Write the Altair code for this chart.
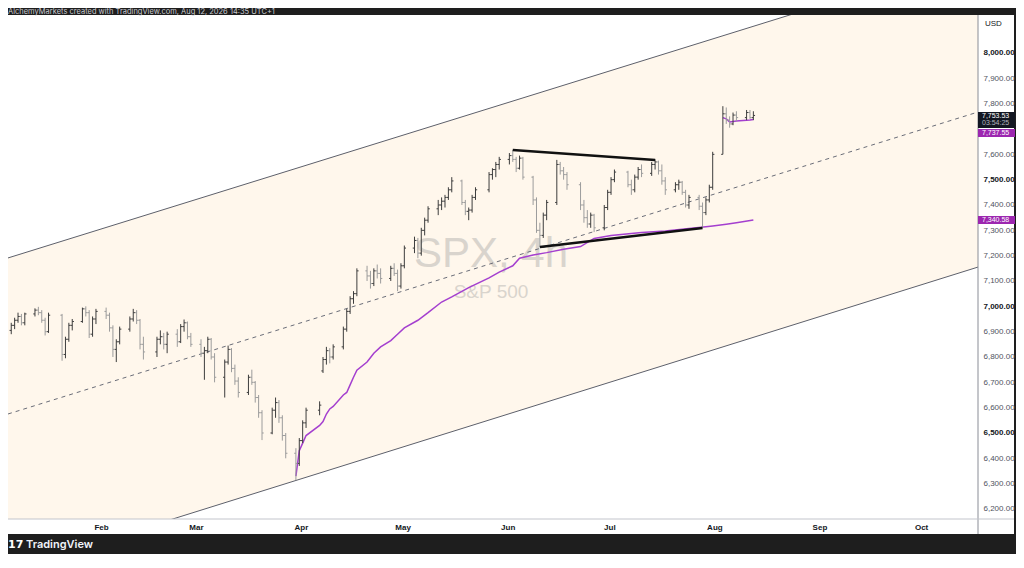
import altair as alt
import numpy as np
import pandas as pd

# ---------------- data ----------------
holidays = ["2026-01-19", "2026-02-16", "2026-04-03", "2026-05-25", "2026-06-19", "2026-07-03"]

bar_open = [
    6905, 6925, 6945, 6960, 6935,
    6970, 6985, 6975, 6945, 6900,
    6965, 6810, 6870, 6925,
    6940, 6990, 6975, 6890, 6950,
    6980, 6965, 6915, 6830, 6860,
    6910, 6950, 6975, 6945, 6850,
    6820, 6870, 6880, 6850,
    6890, 6860, 6920, 6935, 6880,
    6850, 6815, 6825, 6870, 6800,
    6720, 6780, 6830, 6755, 6705,
    6660, 6720, 6700, 6640, 6580,
    6500, 6590, 6620, 6560, 6490,
    6420, 6380, 6470, 6540,
    6590, 6745, 6790, 6825, 6800,
    6840, 6910, 6980, 7030, 7050,
    7140, 7120, 7090, 7140, 7130,
    7110, 7150, 7130, 7080, 7160,
    7230, 7260, 7210, 7300, 7340,
    7385, 7400, 7415, 7430, 7460,
    7495, 7410, 7375, 7380, 7430,
    7460, 7520, 7540, 7560,
    7580, 7595, 7580, 7545, 7585,
    7510, 7420, 7300, 7280, 7360,
    7410, 7560, 7535, 7520,
    7480, 7400, 7350, 7325, 7360,
    7310, 7390, 7450, 7500,
    7530, 7480, 7460, 7510, 7540,
    7525, 7560, 7570, 7535, 7495,
    7460, 7480, 7490, 7450, 7400,
    7430, 7395, 7370, 7420, 7470,
    7600, 7760, 7735, 7720, 7755,
    7745, 7765, 7745,
]
bar_high = [
    6935, 6955, 6975, 6970, 6975,
    6992, 6998, 6985, 6955, 6975,
    6970, 6880, 6935, 6950,
    6995, 7000, 6985, 6960, 6990,
    6995, 6975, 6925, 6870, 6920,
    6960, 6990, 6985, 6950, 6880,
    6880, 6905, 6895, 6900,
    6910, 6930, 6948, 6940, 6895,
    6870, 6840, 6880, 6875, 6815,
    6790, 6845, 6835, 6770, 6720,
    6730, 6750, 6705, 6650, 6590,
    6600, 6640, 6630, 6570, 6500,
    6440, 6480, 6550, 6600,
    6625, 6800, 6840, 6835, 6850,
    6920, 6990, 7040, 7060, 7150,
    7160, 7140, 7150, 7165, 7150,
    7160, 7170, 7145, 7170, 7240,
    7275, 7270, 7310, 7350, 7395,
    7420, 7430, 7440, 7470, 7510,
    7500, 7420, 7390, 7440, 7470,
    7530, 7545, 7570, 7590,
    7605, 7617, 7590, 7595, 7590,
    7515, 7430, 7330, 7370, 7420,
    7578, 7570, 7550, 7530,
    7490, 7420, 7380, 7370, 7365,
    7400, 7460, 7510, 7540,
    7535, 7500, 7520, 7550, 7560,
    7570, 7580, 7575, 7560, 7510,
    7490, 7500, 7495, 7460, 7440,
    7440, 7410, 7430, 7480, 7610,
    7790, 7785, 7750, 7765, 7770,
    7775, 7775, 7770,
]
bar_low = [
    6890, 6910, 6935, 6925, 6925,
    6960, 6965, 6935, 6885, 6895,
    6785, 6795, 6860, 6905,
    6935, 6960, 6875, 6880, 6930,
    6950, 6900, 6800, 6780, 6850,
    6900, 6940, 6930, 6830, 6790,
    6800, 6850, 6830, 6815,
    6840, 6855, 6900, 6870, 6840,
    6800, 6710, 6815, 6790, 6700,
    6640, 6770, 6740, 6690, 6640,
    6650, 6690, 6620, 6560, 6472,
    6495, 6560, 6540, 6470, 6400,
    6314, 6370, 6460, 6520,
    6570, 6737, 6770, 6775, 6790,
    6830, 6900, 6970, 7010, 7040,
    7100, 7070, 7080, 7110, 7090,
    7100, 7120, 7060, 7070, 7150,
    7210, 7190, 7200, 7280, 7330,
    7360, 7380, 7390, 7420, 7450,
    7400, 7360, 7340, 7370, 7420,
    7450, 7500, 7510, 7540,
    7560, 7570, 7530, 7540, 7500,
    7400, 7290, 7234, 7270, 7340,
    7400, 7520, 7500, 7460,
    7380, 7330, 7310, 7310, 7293,
    7300, 7380, 7440, 7490,
    7470, 7440, 7450, 7500, 7510,
    7515, 7540, 7520, 7480, 7440,
    7450, 7460, 7440, 7390, 7385,
    7380, 7309, 7360, 7410, 7460,
    7600, 7720, 7705, 7715, 7730,
    7735, 7740, 7735,
]
bar_close = [
    6925, 6945, 6960, 6935, 6970,
    6985, 6975, 6945, 6900, 6965,
    6810, 6870, 6925, 6940,
    6990, 6975, 6890, 6950, 6980,
    6965, 6915, 6830, 6860, 6910,
    6950, 6975, 6945, 6850, 6820,
    6870, 6880, 6850, 6890,
    6860, 6920, 6935, 6880, 6850,
    6815, 6825, 6870, 6800, 6720,
    6780, 6830, 6755, 6705, 6660,
    6720, 6700, 6640, 6580, 6500,
    6590, 6620, 6560, 6490, 6420,
    6380, 6470, 6540, 6590,
    6610, 6790, 6825, 6800, 6840,
    6910, 6980, 7030, 7050, 7140,
    7120, 7090, 7140, 7130, 7110,
    7150, 7130, 7080, 7160, 7230,
    7260, 7210, 7300, 7340, 7385,
    7400, 7415, 7430, 7460, 7495,
    7410, 7375, 7380, 7430, 7460,
    7520, 7540, 7560, 7580,
    7595, 7580, 7545, 7585, 7510,
    7420, 7300, 7280, 7360, 7410,
    7560, 7535, 7520, 7480,
    7400, 7350, 7325, 7360, 7310,
    7390, 7450, 7500, 7530,
    7480, 7460, 7510, 7540, 7525,
    7560, 7570, 7535, 7495, 7460,
    7480, 7490, 7450, 7400, 7430,
    7395, 7370, 7420, 7470, 7600,
    7760, 7735, 7720, 7755, 7745,
    7765, 7745, 7753.53,
]

# anchored VWAP from the March low (purple)
vwap_dates = ["2026-03-30", "2026-03-31", "2026-04-01", "2026-04-02", "2026-04-06", "2026-04-07",
              "2026-04-08", "2026-04-09", "2026-04-10", "2026-04-13", "2026-04-14", "2026-04-15",
              "2026-04-16", "2026-04-17", "2026-04-20", "2026-04-22", "2026-04-24", "2026-04-27",
              "2026-04-29", "2026-05-01", "2026-05-05", "2026-05-08", "2026-05-12", "2026-05-15",
              "2026-05-20", "2026-05-26", "2026-05-29", "2026-06-02", "2026-06-04", "2026-06-08",
              "2026-06-12", "2026-06-17", "2026-06-22", "2026-06-26", "2026-07-01", "2026-07-10",
              "2026-07-17", "2026-07-24", "2026-07-29", "2026-07-31", "2026-08-04", "2026-08-07",
              "2026-08-12"]
vwap_vals = [6330, 6430, 6460, 6490, 6530, 6545, 6575, 6595, 6605, 6650, 6660, 6690,
             6720, 6748, 6780, 6815, 6840, 6865, 6890, 6915, 6945, 6975, 7017, 7037,
             7074, 7112, 7135, 7160, 7190, 7203, 7212, 7225, 7236, 7268, 7280, 7291,
             7297, 7307, 7314, 7317, 7324, 7330, 7340.58]

# short anchored VWAP from the August gap
svwap_dates = ["2026-08-03", "2026-08-04", "2026-08-05", "2026-08-06", "2026-08-07",
               "2026-08-10", "2026-08-11", "2026-08-12"]
svwap_vals = [7745, 7740, 7728, 7730, 7732, 7735, 7736, 7737.55]

# hand-drawn trendlines
trend_id = ["top", "top", "bottom", "bottom"]
trend_dates = ["2026-06-02", "2026-07-14", "2026-06-10", "2026-07-28"]
trend_vals = [7617, 7578, 7234, 7309]

# parallel channel (left edge / right edge of the pane)
chan_dates = ["2026-01-04T13:00", "2026-10-17T19:00"]
chan_upper = [7191, 8381]
chan_mid = [6575, 7767]
chan_lower = [5957, 7155]

month_ticks = [2, 3, 4, 5, 6, 7, 8, 9, 10]
# 7,700.00 is hidden behind the price tags in the reference
price_ticks = [v for v in range(6200, 8001, 100) if v != 7700]
countdown = "03:54:25"
header = "AlchemyMarkets created with TradingView.com, Aug 12, 2026 14:35 UTC+1"

# ---------------- build ----------------
W, H = 970, 504
FONT = "Inter"
AXF = "Liberation Sans"

days = [d for d in pd.bdate_range("2026-01-05", "2026-08-12").strftime("%Y-%m-%d") if d not in holidays]
assert len(days) == len(bar_close) == len(bar_open) == len(bar_high) == len(bar_low)

bars = pd.DataFrame({
    "date": [d + "T12:00" for d in days],
    "open": bar_open, "high": bar_high, "low": bar_low, "close": bar_close,
})
bars["dir"] = np.where(bars["close"] >= bars["open"], "up", "down")

vwap = pd.DataFrame({"date": [d + "T12:00" for d in vwap_dates], "v": vwap_vals})
svwap = pd.DataFrame({"date": [d + "T12:00" for d in svwap_dates], "v": svwap_vals})
trend = pd.DataFrame({"id": trend_id, "date": [d + "T12:00" for d in trend_dates], "v": trend_vals})
chan = pd.DataFrame({"date": chan_dates, "upper": chan_upper, "mid": chan_mid, "lower": chan_lower})
one = pd.DataFrame({"k": [0]})

xscale = alt.Scale(domain=[alt.DateTime(year=2026, month=1, date=4, hours=13),
                           alt.DateTime(year=2026, month=10, date=17, hours=19)])
yscale = alt.Scale(domain=[6160.5, 8150], nice=False, zero=False)

xaxis = alt.Axis(values=[alt.DateTime(year=2026, month=m, date=1) for m in month_ticks],
                 format="%b", title="", grid=False, ticks=False, domain=False,
                 labelFont=AXF, labelFontSize=8, labelFontWeight="bold", labelColor="#131722",
                 labelPadding=4, zindex=1)
yaxis = alt.Axis(values=price_ticks, format=",.2f", orient="right", title="", grid=False,
                 ticks=False, domain=False, labelFont=AXF, labelFontSize=8, labelPadding=5,
                 labelColor={"expr": "datum.value % 500 === 0 ? '#131722' : '#50535e'"},
                 labelFontWeight={"expr": "datum.value % 500 === 0 ? 'bold' : 'normal'"},
                 zindex=1)


def X(f):
    return alt.X(f"{f}:T", scale=xscale, axis=xaxis)


def Y(f):
    return alt.Y(f"{f}:Q", scale=yscale, axis=yaxis)


bar_color = alt.Color("dir:N", scale=alt.Scale(domain=["up", "down"], range=["#3d3d3d", "#9c9c9c"]),
                      legend=None)

area = alt.Chart(chan).mark_area(color="#fff7ec", clip=True).encode(
    x=X("date"), y=Y("lower"), y2=alt.Y2("upper"))
up_line = alt.Chart(chan).mark_line(color="#5d606b", strokeWidth=1, clip=True).encode(
    x=X("date"), y=Y("upper"))
lo_line = alt.Chart(chan).mark_line(color="#5d606b", strokeWidth=1, clip=True).encode(
    x=X("date"), y=Y("lower"))
mid_line = alt.Chart(chan).mark_line(color="#6a6d78", strokeWidth=1, strokeDash=[4, 4], clip=True).encode(
    x=X("date"), y=Y("mid"))

wm1 = alt.Chart(one).mark_text(text="SPX, 4h", font="Liberation Sans", fontSize=42,
                               color="#d9d4cd").encode(x=alt.value(W / 2 - 2), y=alt.value(H / 2 - 13))
wm2 = alt.Chart(one).mark_text(text="S&P 500", font="Liberation Sans", fontSize=19,
                               color="#d9d4cd").encode(x=alt.value(W / 2 - 2), y=alt.value(H / 2 + 25))

hl = alt.Chart(bars).mark_rule(strokeWidth=1, clip=True).encode(
    x=X("date"), y=Y("low"), y2=alt.Y2("high"), color=bar_color)
op = alt.Chart(bars).mark_rule(strokeWidth=1, clip=True, xOffset=-1.7).encode(
    x=X("date"), x2=alt.X2("date"), y=Y("open"), color=bar_color)
cl = alt.Chart(bars).mark_rule(strokeWidth=1, clip=True, x2Offset=1.7).encode(
    x=X("date"), x2=alt.X2("date"), y=Y("close"), color=bar_color)

vw = alt.Chart(vwap).mark_line(color="#a43fcf", strokeWidth=1.5, clip=True).encode(
    x=X("date"), y=Y("v"))
svw = alt.Chart(svwap).mark_line(color="#a43fcf", strokeWidth=1.5, clip=True).encode(
    x=X("date"), y=Y("v"))
tl = alt.Chart(trend).mark_line(color="#111111", strokeWidth=2.5, clip=True).encode(
    x=X("date"), y=Y("v"), detail="id:N")

right_panel = alt.Chart(one).mark_rect(color="white").encode(
    x=alt.value(W), x2=alt.value(W + 36), y=alt.value(0), y2=alt.value(H + 15))
bottom_panel = alt.Chart(one).mark_rect(color="white").encode(
    x=alt.value(0), x2=alt.value(W), y=alt.value(H), y2=alt.value(H + 15))
vsep = alt.Chart(one).mark_rule(color="#8a8d96", strokeWidth=1).encode(
    x=alt.value(W), y=alt.value(0), y2=alt.value(H + 15))
hsep = alt.Chart(one).mark_rule(color="#c3c5cc", strokeWidth=1).encode(
    x=alt.value(0), x2=alt.value(W + 36), y=alt.value(H))

last_df = pd.DataFrame({"p": [bar_close[-1]]})
svw_df = pd.DataFrame({"p": [svwap_vals[-1]]})
vw_df = pd.DataFrame({"p": [vwap_vals[-1]]})

box_last = alt.Chart(last_df).mark_rect(color="#131722", yOffset=-3.5, y2Offset=12.5).encode(
    x=alt.value(W), x2=alt.value(W + 37), y=Y("p"), y2=alt.Y2("p"))
txt_last = alt.Chart(last_df).mark_text(align="left", font=AXF, fontSize=7, color="white", dy=0.5).encode(
    x=alt.value(W + 4), y=Y("p"), text=alt.Text("p:Q", format=",.2f"))
txt_cd = alt.Chart(last_df).mark_text(align="left", font=AXF, fontSize=7, color="#b2b5be", dy=8,
                                      text=countdown).encode(x=alt.value(W + 4), y=Y("p"))
box_svw = alt.Chart(svw_df).mark_rect(color="#9c27b0", yOffset=9.5, y2Offset=17.5).encode(
    x=alt.value(W), x2=alt.value(W + 37), y=Y("p"), y2=alt.Y2("p"))
txt_svw = alt.Chart(svw_df).mark_text(align="left", font=AXF, fontSize=7, color="white", dy=14).encode(
    x=alt.value(W + 4), y=Y("p"), text=alt.Text("p:Q", format=",.2f"))
box_vw = alt.Chart(vw_df).mark_rect(color="#9c27b0", yOffset=-4, y2Offset=4).encode(
    x=alt.value(W), x2=alt.value(W + 37), y=Y("p"), y2=alt.Y2("p"))
txt_vw = alt.Chart(vw_df).mark_text(align="left", font=AXF, fontSize=7, color="white").encode(
    x=alt.value(W + 4), y=Y("p"), text=alt.Text("p:Q", format=",.2f"))

usd = alt.Chart(one).mark_text(text="USD", align="left", font=AXF, fontSize=8, color="#131722").encode(
    x=alt.value(W + 7), y=alt.value(9))
head = alt.Chart(one).mark_text(text=header, align="left", baseline="alphabetic", font=FONT, fontSize=7.5,
                                color="#c9cbd1").encode(x=alt.value(0), y=alt.value(-1))
logo = alt.Chart(one).mark_text(text="17", align="left", font="DejaVu Sans", fontSize=11, fontWeight="bold",
                                color="white").encode(x=alt.value(0), y=alt.value(H + 26))
brand = alt.Chart(one).mark_text(text="TradingView", align="left", font=FONT, fontSize=11, fontWeight=600,
                                 color="#f0f3fa").encode(x=alt.value(18), y=alt.value(H + 26))

chart = alt.layer(
    area, wm1, wm2, up_line, lo_line, mid_line, vw, svw, hl, op, cl, tl,
    right_panel, bottom_panel, vsep, hsep,
    box_last, txt_last, txt_cd, box_svw, txt_svw, box_vw, txt_vw,
    usd, head, logo, brand,
).properties(
    width=W, height=H,
    padding={"left": 0, "top": 7, "right": 38, "bottom": 35},
    autosize=alt.AutoSizeParams(type="none"),
    background="#1e1e1e",
).configure_view(fill="white", strokeWidth=0)

chart.save("out.html", embed_options={"renderer": "svg", "actions": False})
